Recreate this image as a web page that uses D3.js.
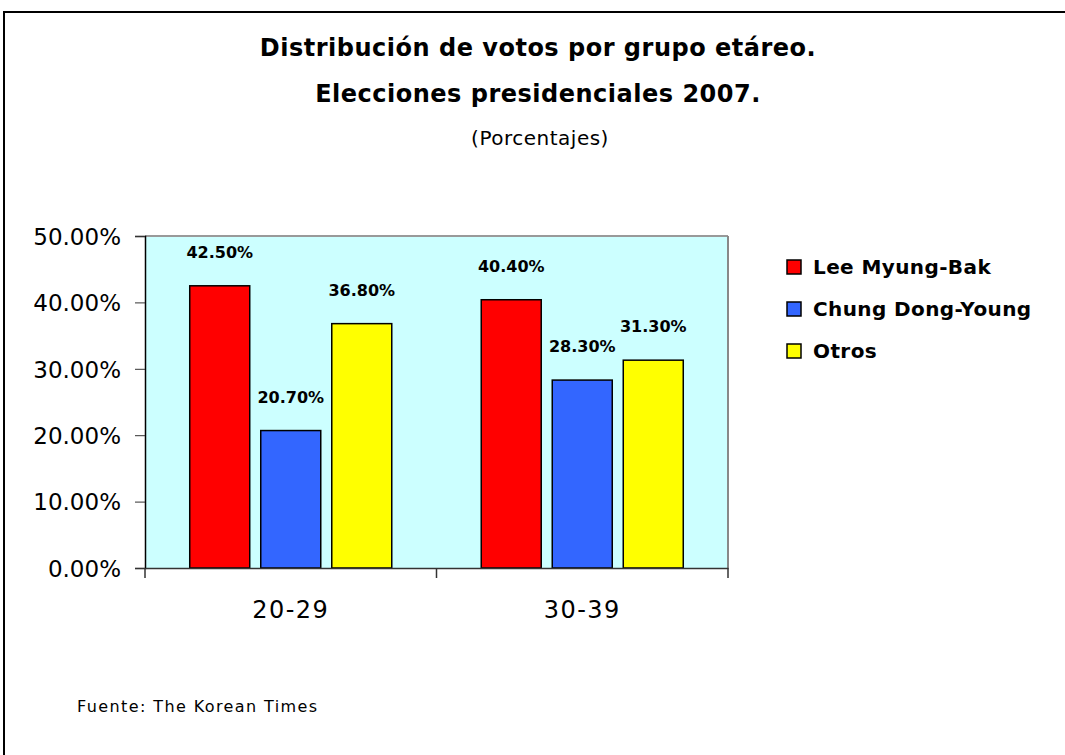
<!DOCTYPE html>
<html><head><meta charset="utf-8">
<script src="https://cdn.jsdelivr.net/npm/d3@7"></script>
<style>body{margin:0;background:#fff}svg{display:block}text{font-family:"DejaVu Sans",sans-serif;fill:#000}</style>
</head><body>
<script>
const categories = ["20-29", "30-39"];
const seriesNames = ["Lee Myung-Bak", "Chung Dong-Young", "Otros"];
const seriesColors = ["#FF0000", "#3366FF", "#FFFF00"];
const leeValues = [42.5, 40.4];
const chungValues = [20.7, 28.3];
const otrosValues = [36.8, 31.3];
const yTicks = [0, 10, 20, 30, 40, 50];
const titleLines = ["Distribución de votos por grupo etáreo.", "Elecciones presidenciales 2007."];
const subtitle = "(Porcentajes)";
const source = "Fuente: The Korean Times";

const seriesValues = [leeValues, chungValues, otrosValues];
const W = 1065, H = 755;
const svg = d3.select("body").append("svg").attr("width", W).attr("height", H);

// outer frame
svg.append("rect").attr("x", 4).attr("y", 12).attr("width", 1100).attr("height", 800)
  .attr("fill", "none").attr("stroke", "#000").attr("stroke-width", 2);

const pl = 145, pr = 728, pt = 236, pb = 568;
const y = d3.scaleLinear().domain([0, 50]).range([pb, pt]);
const x0 = d3.scaleBand().domain(categories).range([pl, pr]).padding(0);
const x1 = d3.scaleBand().domain(seriesNames).range([0, x0.bandwidth()])
  .paddingInner(0.155).paddingOuter(0.63);

// plot background
svg.append("rect").attr("x", pl).attr("y", pt).attr("width", pr - pl).attr("height", pb - pt)
  .attr("fill", "#CCFFFF");
svg.append("line").attr("x1", pl).attr("x2", pr).attr("y1", pt).attr("y2", pt)
  .attr("stroke", "#999").attr("stroke-width", 2);
svg.append("line").attr("x1", pr).attr("x2", pr).attr("y1", pt).attr("y2", pb)
  .attr("stroke", "#888").attr("stroke-width", 2);

// bars
categories.forEach((c, ci) => {
  seriesNames.forEach((s, si) => {
    const v = seriesValues[si][ci];
    const bx = x0(c) + x1(s);
    svg.append("rect").attr("x", bx).attr("y", y(v)).attr("width", x1.bandwidth())
      .attr("height", y(0) - y(v)).attr("fill", seriesColors[si])
      .attr("stroke", "#000").attr("stroke-width", 1.5);
    svg.append("text").attr("x", bx + x1.bandwidth() / 2).attr("y", y(v) - 28)
      .attr("text-anchor", "middle").attr("font-size", 16).attr("font-weight", "bold")
      .text(v.toFixed(2) + "%");
  });
});

// y axis
const yAxis = d3.axisLeft(y).tickValues(yTicks).tickSize(10).tickPadding(14)
  .tickFormat(d => d.toFixed(2) + "%");
const ya = svg.append("g").attr("transform", `translate(${pl},0)`).call(yAxis);
ya.select(".domain").attr("stroke", "#000").attr("stroke-width", 1.5);
ya.selectAll(".tick line").attr("stroke", "#333");
ya.selectAll(".tick text").attr("font-size", 23).attr("font-family", "DejaVu Sans").attr("fill", "#000").attr("dy", "0.36em");

// x axis
const xAxis = d3.axisBottom(x0).tickSize(0).tickPadding(33);
const xa = svg.append("g").attr("transform", `translate(0,${pb})`).call(xAxis);
xa.select(".domain").attr("stroke", "#333").attr("stroke-width", 1.5);
xa.selectAll(".tick text").attr("font-size", 24).attr("font-family", "DejaVu Sans").attr("fill", "#000")
  .attr("letter-spacing", "1.5px");
// category boundary ticks
const bounds = [pl, x0(categories[1]), pr];
xa.selectAll(".bt").data(bounds).enter().append("line")
  .attr("x1", d => d).attr("x2", d => d).attr("y1", 0).attr("y2", 10)
  .attr("stroke", "#333").attr("stroke-width", 1.5);

// titles
svg.selectAll(".title").data(titleLines).enter().append("text")
  .attr("x", 538).attr("y", (d, i) => 56 + i * 46).attr("text-anchor", "middle")
  .attr("font-size", 24).attr("font-weight", "bold").attr("letter-spacing", "0.5px").text(d => d);
svg.append("text").attr("x", 540).attr("y", 145).attr("text-anchor", "middle")
  .attr("font-size", 20).attr("letter-spacing", "0.5px").text(subtitle);

// legend
const lg = svg.append("g").attr("transform", "translate(787,0)");
seriesNames.forEach((s, i) => {
  const cy = 267 + i * 42;
  lg.append("rect").attr("x", 0).attr("y", cy - 7).attr("width", 14).attr("height", 14)
    .attr("fill", seriesColors[i]).attr("stroke", "#000").attr("stroke-width", 1.5);
  lg.append("text").attr("x", 26).attr("y", cy).attr("dy", "0.36em")
    .attr("font-size", 20).attr("font-weight", "bold").attr("letter-spacing", "0.4px").text(s);
});

svg.append("text").attr("x", 77).attr("y", 712).attr("font-size", 16)
  .attr("letter-spacing", "1.4px").text(source);
</script>
</body></html>
